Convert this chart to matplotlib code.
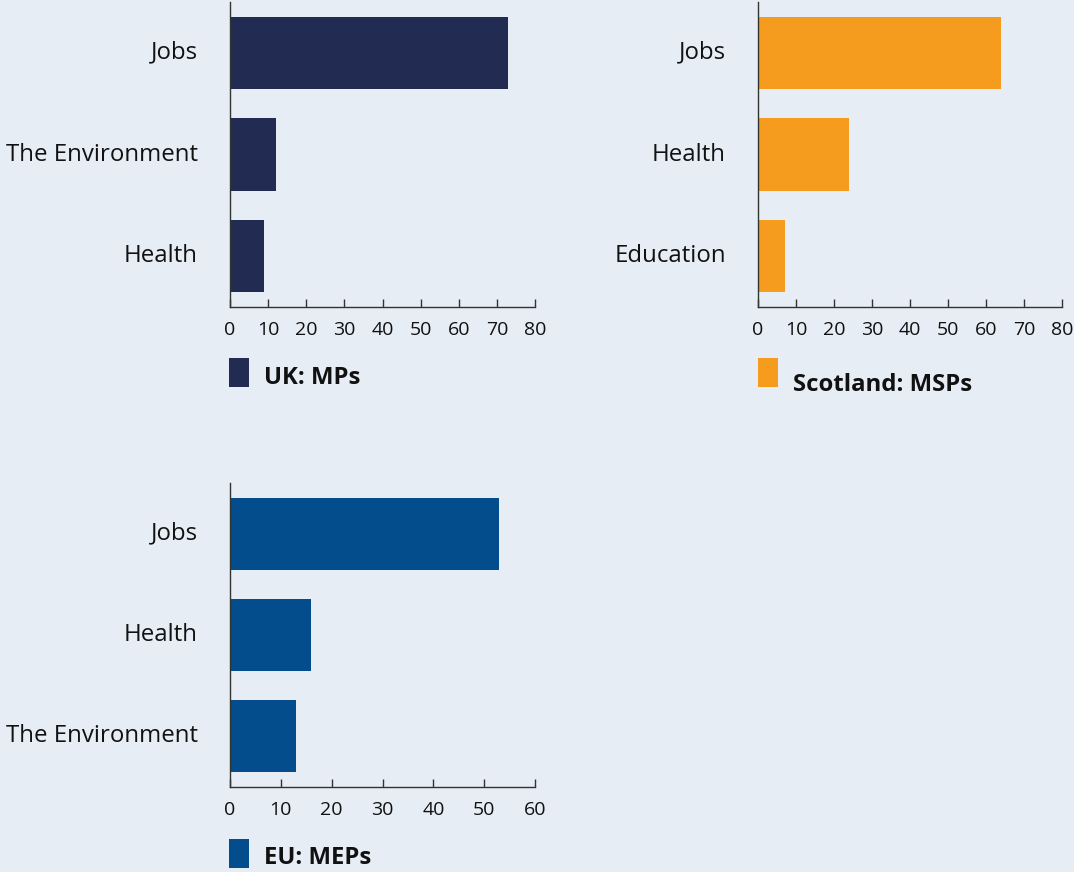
import matplotlib
matplotlib.use("Agg")
import matplotlib.pyplot as plt
from matplotlib.patches import Rectangle

plt.rcParams['font.family'] = ['Open Sans', 'DejaVu Sans']

BG = '#E6EDF5'

uk_labels = ['Jobs', 'The Environment', 'Health']
uk_values = [73, 12, 9]

scot_labels = ['Jobs', 'Health', 'Education']
scot_values = [64, 24, 7]

eu_labels = ['Jobs', 'Health', 'The Environment']
eu_values = [53, 16, 13]

W, H = 1074, 872


def draw_panel(fig, rect, labels, values, color, xmax):
    """One horizontal bar panel (rect given in pixels from top left)."""
    left, top, width, height = rect
    ax = fig.add_axes([left / W, 1 - (top + height) / H, width / W, height / H])
    ax.set_facecolor(BG)
    pos = list(range(len(labels)))
    ax.barh(pos, values, height=0.71, color=color)
    ax.set_ylim(len(labels) - 0.5, -0.5)
    ax.set_xlim(0, xmax)
    ax.set_xticks(range(0, xmax + 1, 10))
    ax.set_yticks(pos)
    ax.set_yticklabels(labels, va='center')
    for s in ['top', 'right']:
        ax.spines[s].set_visible(False)
    for s in ['left', 'bottom']:
        ax.spines[s].set_color('#333333')
        ax.spines[s].set_linewidth(1.0)
    ax.tick_params(axis='x', direction='in', length=6, width=1.0,
                   color='#333333', labelsize=14, pad=10, labelcolor='#111111')
    ax.tick_params(axis='y', length=0, labelsize=17.3, pad=23, labelcolor='#111111')
    return ax


def draw_key(fig, x, y, color, title, text_base):
    """Small colour swatch plus bold series name under a panel."""
    fig.add_artist(Rectangle((x / W, 1 - (y + 29) / H), 20 / W, 29 / H,
                             transform=fig.transFigure, facecolor=color,
                             edgecolor='none'))
    fig.text((x + 35) / W, 1 - text_base / H, title, fontsize=17.2,
             fontweight='bold', color='#111111', va='baseline', ha='left')


fig = plt.figure(figsize=(W / 100, H / 100), dpi=100)
fig.patch.set_facecolor(BG)

draw_panel(fig, (230, 2, 305, 305), uk_labels, uk_values, '#222C53', 80)
draw_panel(fig, (758, 2, 304, 305), scot_labels, scot_values, '#F59C1F', 80)
draw_panel(fig, (230, 483, 305, 304), eu_labels, eu_values, '#034D8C', 60)

draw_key(fig, 229, 358, '#222C53', 'UK: MPs', 384)
draw_key(fig, 758, 358, '#F59C1F', 'Scotland: MSPs', 391)
draw_key(fig, 229, 839, '#034D8C', 'EU: MEPs', 864)

fig.savefig('out.png', dpi=100, facecolor=BG)
